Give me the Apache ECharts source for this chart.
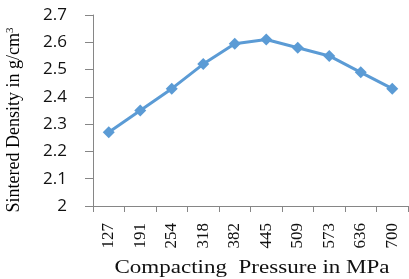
<!DOCTYPE html>
<html>
<head>
<meta charset="utf-8">
<script src="https://cdn.jsdelivr.net/npm/echarts@6/dist/echarts.min.js"></script>
<style>html,body{margin:0;padding:0;background:#fff;}#c{width:409px;height:279px;}</style>
</head>
<body>
<div id="c"></div>
<script>
const categories = ['127','191','254','318','382','445','509','573','636','700'];
const density = [2.27, 2.35, 2.43, 2.52, 2.595, 2.61, 2.58, 2.55, 2.49, 2.43];
const yTicks = [2, 2.1, 2.2, 2.3, 2.4, 2.5, 2.6, 2.7];
const xTitle = 'Compacting  Pressure in MPa';
const yTitle = 'Sintered Density in g/cm';

const chart = echarts.init(document.getElementById('c'), null, {renderer: 'canvas'});
const axisColor = '#868686';
chart.setOption({
  animation: false,
  grid: {left: 93, top: 15, right: 1, bottom: 73, containLabel: false},
  xAxis: {
    type: 'category',
    data: categories,
    boundaryGap: true,
    axisLine: {lineStyle: {color: axisColor, width: 1}},
    axisTick: {show: true, length: 6, lineStyle: {color: axisColor}},
    axisLabel: {rotate: 90, margin: 17, fontFamily: 'Liberation Serif', fontSize: 17, color: '#111'},
    splitLine: {show: false}
  },
  yAxis: {
    type: 'value',
    min: yTicks[0], max: yTicks[yTicks.length - 1], interval: 0.1,
    axisLine: {show: true, lineStyle: {color: axisColor, width: 1}},
    axisTick: {show: true, length: 8, lineStyle: {color: axisColor}},
    axisLabel: {margin: 26, fontFamily: 'Open Sans', fontSize: 17, color: '#111',
      formatter: v => (Math.round(v * 10) / 10).toString()},
    splitLine: {show: false}
  },
  graphic: [
    {type: 'text', x: 252, y: 268, scaleX: 1.28, originX: 0,
      style: {text: xTitle, font: '18px "Liberation Serif"', fill: '#111', align: 'center', verticalAlign: 'middle'}},
    {type: 'text', x: 14, y: 120, rotation: Math.PI / 2,
      style: {text: '{a|' + yTitle + '}{s|3}', align: 'center', verticalAlign: 'middle',
        rich: {a: {font: '18px "Liberation Serif"', color: '#111'},
               s: {font: '11px "Liberation Serif"', color: '#111', verticalAlign: 'top', padding: [0,0,8,0]}}}}
  ],
  series: [{
    type: 'line',
    data: density,
    symbol: 'diamond',
    symbolSize: 12,
    lineStyle: {color: '#5B9BD5', width: 3},
    itemStyle: {color: '#5B9BD5'}
  }]
});
</script>
</body>
</html>
